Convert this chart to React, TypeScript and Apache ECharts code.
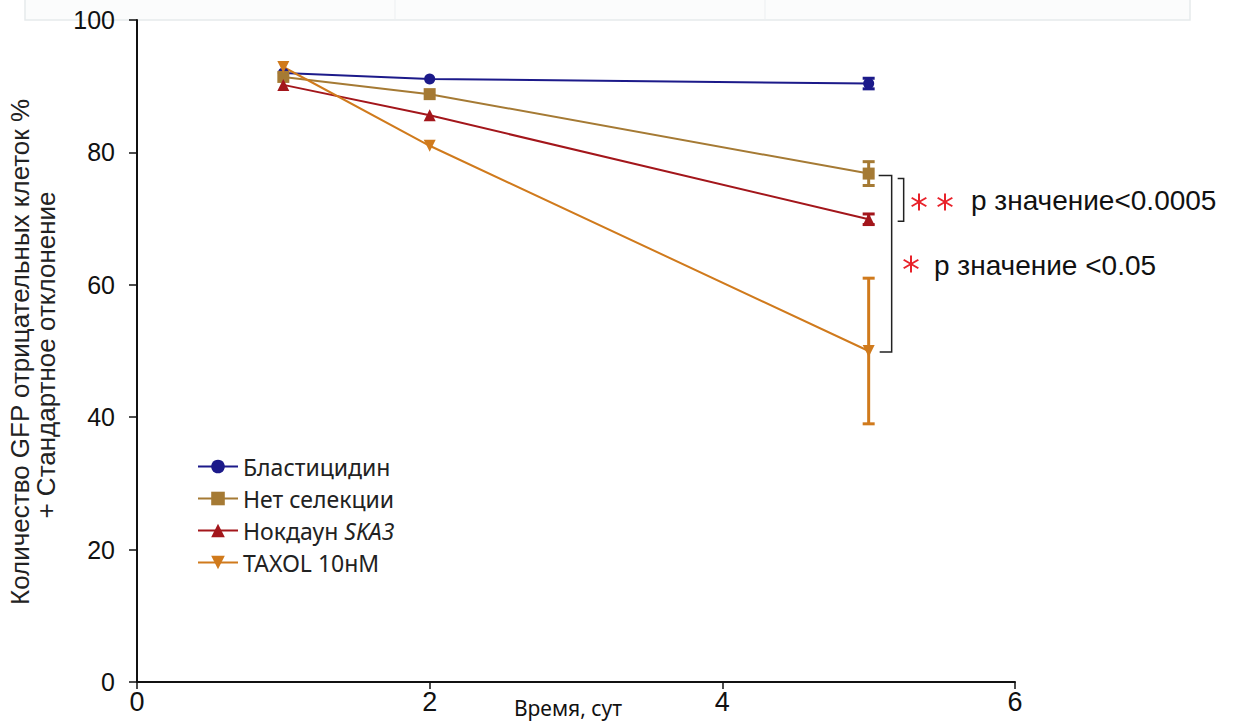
import React, { useEffect, useRef } from "react";
import * as echarts from "echarts";

const days = [1, 2, 5];
const blasticidin = [92.0, 91.1, 90.4];
const noSelection = [91.4, 88.8, 76.8];
const ska3 = [90.2, 85.6, 69.9];
const taxol = [92.9, 81.0, 50.0];
const blasticidinErr = [0, 0, 0.8];
const noSelectionErr = [0, 0, 1.8];
const ska3Err = [0, 0, 0.8];
const taxolErr = [0, 0, 11];

const names = ["Бластицидин", "Нет селекции", "Нокдаун SKA3", "TAXOL 10нМ"];
const colors = ["#1c1a8a", "#a57a34", "#a3161b", "#d07a1c"];
const symbols = ["circle", "rect", "triangle", "triangle"];
const rotates = [0, 0, 0, 180];
const values = [blasticidin, noSelection, ska3, taxol];
const errs = [blasticidinErr, noSelectionErr, ska3Err, taxolErr];

const FONT = "'Liberation Sans', Arial, sans-serif";
const NARROW = "'Liberation Sans Narrow', 'Liberation Sans', Arial, sans-serif";

function star(cx: number, cy: number, r: number) {
  const children = [0, 60, 120].map((deg) => {
    const a = (deg * Math.PI) / 180 + Math.PI / 2;
    return {
      type: "line",
      shape: { x1: cx - r * Math.cos(a), y1: cy - r * Math.sin(a), x2: cx + r * Math.cos(a), y2: cy + r * Math.sin(a) },
      style: { stroke: "#e8222a", lineWidth: 2 },
    };
  });
  return { type: "group", children };
}

export default function App() {
  const ref = useRef<HTMLDivElement>(null);
  useEffect(() => {
    const chart = echarts.init(ref.current!, null, { renderer: "svg" });
    const lineSeries = values.map((v, i) => ({
      type: "line",
      name: names[i],
      data: days.map((d, j) => [d, v[j]]),
      symbol: symbols[i],
      symbolRotate: rotates[i],
      symbolSize: i === 0 ? 11 : 12,
      itemStyle: { color: colors[i] },
      lineStyle: { color: colors[i], width: 2 },
      z: 3,
    }));
    const errSeries = values.map((v, i) => ({
      type: "custom",
      name: names[i] + "_err",
      data: days.map((d, j) => [d, v[j] - errs[i][j], v[j] + errs[i][j]]).filter((_, j) => errs[i][j] > 0),
      renderItem: (params: any, api: any) => {
        const x = api.value(0);
        const lo = api.coord([x, api.value(1)]);
        const hi = api.coord([x, api.value(2)]);
        const w = 6;
        const st = { stroke: colors[i], lineWidth: 3 };
        return {
          type: "group",
          children: [
            { type: "line", shape: { x1: lo[0], y1: lo[1], x2: hi[0], y2: hi[1] }, style: st },
            { type: "line", shape: { x1: lo[0] - w, y1: lo[1], x2: lo[0] + w, y2: lo[1] }, style: st },
            { type: "line", shape: { x1: hi[0] - w, y1: hi[1], x2: hi[0] + w, y2: hi[1] }, style: st },
          ],
        };
      },
      z: 2,
      silent: true,
    }));

    chart.setOption({
      animation: false,
      grid: { left: 137, right: 219, top: 20, bottom: 42 },
      xAxis: {
        type: "value",
        min: 0,
        max: 6,
        interval: 2,
        axisLine: { lineStyle: { color: "#111", width: 2 } },
        axisTick: { show: true, length: 7, lineStyle: { color: "#111", width: 1.5 } },
        axisLabel: { color: "#111", fontSize: 27, fontFamily: NARROW, margin: 6 },
        splitLine: { show: false },
      },
      yAxis: {
        type: "value",
        min: 0,
        max: 100,
        interval: 20,
        axisLine: { show: true, lineStyle: { color: "#111", width: 2 } },
        axisTick: { show: true, length: 8, lineStyle: { color: "#111", width: 1.5 } },
        axisLabel: { color: "#111", fontSize: 25, fontFamily: FONT, margin: 22 },
        splitLine: { show: false },
      },
      legend: {
        data: names,
        orient: "vertical",
        left: 192,
        top: 450,
        itemWidth: 40,
        itemHeight: 17,
        itemGap: 9,
        textStyle: {
          fontSize: 23,
          fontFamily: "'Noto Sans', 'Open Sans', sans-serif",
          color: "#222",
          rich: {
            n: { fontSize: 23, fontFamily: "'Noto Sans', sans-serif", color: "#222" },
            i: { fontSize: 23, fontFamily: "'Noto Sans', sans-serif", fontStyle: "italic", color: "#222" },
          },
        },
        formatter: (name: string) =>
          name === "Нокдаун SKA3" ? "{n|Нокдаун }{i|SKA3}" : name,
      },
      series: [...errSeries, ...lineSeries],
    });

    const last = days.length - 1;
    const px = (x: number, y: number) => chart.convertToPixel({ gridIndex: 0 }, [x, y]) as number[];
    const b1Top = px(days[last], noSelection[last]);
    const b1Bot = px(days[last], ska3[last]);
    const b2Bot = px(days[last], taxol[last]);
    const bs = { stroke: "#222", lineWidth: 1.5, fill: "none" };
    chart.setOption({
      graphic: [
        { type: "rect", shape: { x: 25, y: -2, width: 1165, height: 22 }, style: { fill: "#fbfcfc", stroke: "#e6eaec", lineWidth: 1.5 }, z: -1 },
        { type: "line", shape: { x1: 395, y1: 0, x2: 395, y2: 20 }, style: { stroke: "#eceff1", lineWidth: 1 } },
        { type: "line", shape: { x1: 765, y1: 0, x2: 765, y2: 20 }, style: { stroke: "#eceff1", lineWidth: 1 } },
        {
          type: "polyline",
          shape: { points: [[b1Top[0] + 10, b1Top[1] + 2], [b1Top[0] + 23, b1Top[1] + 2], [b1Top[0] + 23, b2Bot[1] + 1], [b1Top[0] + 11, b2Bot[1] + 1]] },
          style: bs,
        },
        {
          type: "polyline",
          shape: { points: [[b1Top[0] + 29, b1Top[1] + 5], [b1Top[0] + 35, b1Top[1] + 5], [b1Top[0] + 35, b1Bot[1] + 2], [b1Top[0] + 29, b1Bot[1] + 2]] },
          style: bs,
        },
        star(919, 202, 8.5),
        star(945, 202, 8.5),
        star(911, 264, 8.5),
        { type: "text", x: 971, y: 200, style: { text: "p значение<0.0005", fill: "#111", font: `28px ${FONT}`, verticalAlign: "middle" } },
        { type: "text", x: 934, y: 265, style: { text: "p значение <0.05", fill: "#111", font: `28px ${FONT}`, verticalAlign: "middle" } },
        { type: "text", x: 568, y: 708, style: { text: "Время, сут", fill: "#111", font: `21px 'Noto Sans', sans-serif`, align: "center", verticalAlign: "middle" } },
        { type: "text", x: 20, y: 352, rotation: Math.PI / 2, style: { text: "Количество GFP отрицательных клеток %", fill: "#222", font: `26px ${FONT}`, align: "center", verticalAlign: "middle" } },
        { type: "text", x: 46, y: 355, rotation: Math.PI / 2, style: { text: "+ Стандартное отклонение", fill: "#222", font: `26px ${FONT}`, align: "center", verticalAlign: "middle" } },
      ],
    });
    return () => chart.dispose();
  }, []);
  return <div ref={ref} style={{ width: 1234, height: 724, position: "absolute", left: 0, top: 0, background: "#fff" }} />;
}
